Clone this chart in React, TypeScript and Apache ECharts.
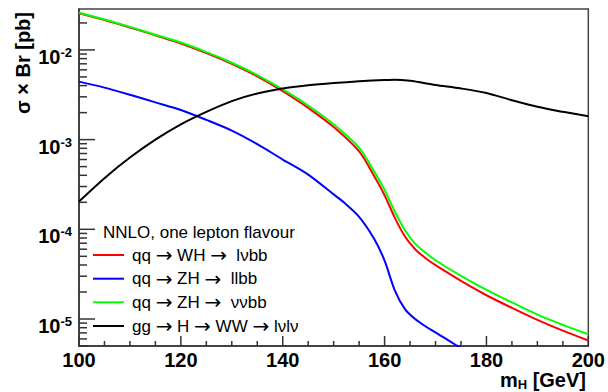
import { useEffect, useRef } from "react";
import * as echarts from "echarts";

const FONT = '"Liberation Sans", Arial, Helvetica, sans-serif';
const SYMBOL_FONT = '"DejaVu Sans", sans-serif';

// Higgs mass points (GeV) and cross section x branching ratio (pb)
const massVH = [100, 105, 110, 115, 120, 125, 130, 135, 140, 145, 150, 155, 158, 160, 162, 164, 166, 168, 170, 175, 180, 185, 190, 195, 200];
const whLnubb = [0.0257, 0.0216, 0.0178, 0.01452, 0.0118, 0.00923, 0.0070, 0.00507, 0.00347, 0.00226, 0.00138, 7.4e-4, 3.89e-4, 2.40e-4, 1.35e-4, 8.3e-5, 6.0e-5, 4.79e-5, 3.98e-5, 2.66e-5, 1.84e-5, 1.33e-5, 9.77e-6, 7.41e-6, 5.75e-6];
const zhNunubb = [0.0260, 0.02188, 0.01807, 0.01479, 0.01208, 0.00946, 0.00719, 0.00525, 0.00363, 0.0024, 0.00148, 8.1e-4, 4.37e-4, 2.75e-4, 1.58e-4, 9.77e-5, 6.92e-5, 5.5e-5, 4.52e-5, 3.02e-5, 2.11e-5, 1.53e-5, 1.12e-5, 8.61e-6, 6.76e-6];

const massZll = [100, 105, 110, 115, 120, 125, 130, 135, 140, 145, 150, 152, 155, 158, 160, 162, 164, 166, 168, 170, 172, 174, 176];
const zhLlbb = [4.43e-3, 3.80e-3, 3.16e-3, 2.60e-3, 2.14e-3, 1.66e-3, 1.26e-3, 8.9e-4, 6.0e-4, 4.07e-4, 2.45e-4, 2.0e-4, 1.38e-4, 7.76e-5, 4.47e-5, 2.09e-5, 1.29e-5, 1.0e-5, 8.3e-6, 7.08e-6, 6.03e-6, 5.13e-6, 4.37e-6];

const massWW = [100, 105, 110, 115, 120, 125, 130, 135, 140, 145, 150, 155, 160, 162, 165, 170, 175, 180, 185, 190, 195, 200];
const ggWWlnln = [2.04e-4, 3.72e-4, 6.31e-4, 1.0e-3, 1.48e-3, 2.04e-3, 2.69e-3, 3.27e-3, 3.72e-3, 4.03e-3, 4.27e-3, 4.47e-3, 4.62e-3, 4.66e-3, 4.52e-3, 4.07e-3, 3.72e-3, 3.31e-3, 2.75e-3, 2.32e-3, 2.04e-3, 1.82e-3];

const seriesNames = [
  "qq \u2192 WH \u2192  l\u03bdbb",
  "qq \u2192 ZH \u2192  llbb",
  "qq \u2192 ZH \u2192  \u03bd\u03bdbb",
  "gg \u2192 H \u2192 WW \u2192 l\u03bdl\u03bd",
];
const seriesColors = ["#ff0000", "#0000ff", "#00ff00", "#000000"];
const legendHeader = "NNLO, one lepton flavour";

const xRange = { min: 100, max: 200, step: 20, minorStep: 5 };
const yRange = { min: 5e-6, max: 0.0286 };
const yMajorTicks = [1e-5, 1e-4, 1e-3, 1e-2];

function yMinorTicks(): number[] {
  const out: number[] = [];
  for (let e = -6; e <= -2; e++) {
    for (let k = 2; k <= 9; k++) {
      const v = Number((k * Math.pow(10, e)).toPrecision(3));
      if (v >= yRange.min && v <= yRange.max) out.push(v);
    }
  }
  return out;
}

function pairs(xs: number[], ys: number[]) {
  return xs.map((x, i) => [x, ys[i]]);
}

export default function App() {
  const ref = useRef<HTMLDivElement>(null);

  useEffect(() => {
    document.body.style.margin = "0";
    const chart = echarts.init(ref.current!, null, { renderer: "svg" });
    const axisColor = "#333";
    const lineSeries = (name: string, color: string, data: number[][]) => ({
      name,
      type: "line",
      data,
      symbol: "none",
      smooth: 0.3,
      clip: true,
      lineStyle: { color, width: 2 },
      itemStyle: { color },
    });

    chart.setOption({
      animation: false,
      backgroundColor: "#ffffff",
      textStyle: { fontFamily: FONT },
      grid: {
        left: 79,
        top: 9,
        right: 19,
        bottom: 46,
        show: true,
        borderColor: "#444",
        borderWidth: 1.5,
        backgroundColor: "transparent",
      },
      xAxis: {
        type: "value",
        min: xRange.min,
        max: xRange.max,
        interval: xRange.step,
        axisLine: { show: true, lineStyle: { color: axisColor, width: 1.5 } },
        axisTick: { show: false },
        splitLine: { show: false },
        axisLabel: {
          margin: 4,
          color: "#000",
          fontSize: 20,
          fontWeight: "bold",
          fontFamily: FONT,
        },
      },
      yAxis: {
        type: "log",
        logBase: 10,
        min: yRange.min,
        max: yRange.max,
        axisLine: { show: true, lineStyle: { color: axisColor, width: 1.5 } },
        axisTick: { show: false },
        splitLine: { show: false },
        axisLabel: {
          customValues: yMajorTicks,
          margin: 7,
          color: "#000",
          fontFamily: FONT,
          formatter: (v: number) => `{b|10}{s|${Math.round(Math.log10(v))}}`,
          rich: {
            b: { fontSize: 20, fontWeight: "bold", fontFamily: FONT, color: "#000", padding: [14, 0, 0, 0] },
            s: { fontSize: 13, fontWeight: "bold", fontFamily: FONT, color: "#000", padding: [5, 0, 0, 0] },
          },
        },
      },
      series: seriesNames.map((name, i) => {
        const xs = [massVH, massZll, massVH, massWW][i];
        const ys = [whLnubb, zhLlbb, zhNunubb, ggWWlnln][i];
        return lineSeries(name, seriesColors[i], pairs(xs, ys));
      }),
    });

    // Inward-pointing tick marks placed through the grid's own scales
    const toPx = (x: number, y: number) => chart.convertToPixel({ gridIndex: 0 }, [x, y]) as number[];
    const origin = toPx(xRange.min, yRange.min);
    const x0 = origin[0];
    const y0 = origin[1];
    const tickW = 1.5;
    const ticks: any[] = [];
    for (let v = xRange.min; v <= xRange.max; v += xRange.minorStep) {
      const major = (v - xRange.min) % xRange.step === 0;
      const len = major ? 10 : 5;
      const x = toPx(v, yRange.min)[0];
      ticks.push({ type: "rect", silent: true, shape: { x: x - tickW / 2, y: y0 - len, width: tickW, height: len }, style: { fill: axisColor } });
    }
    for (const v of yMajorTicks) {
      const y = toPx(xRange.min, v)[1];
      ticks.push({ type: "rect", silent: true, shape: { x: x0, y: y - tickW / 2, width: 16, height: tickW }, style: { fill: axisColor } });
    }
    for (const v of yMinorTicks()) {
      const y = toPx(xRange.min, v)[1];
      ticks.push({ type: "rect", silent: true, shape: { x: x0, y: y - tickW / 2, width: 8, height: tickW }, style: { fill: axisColor } });
    }

    // Legend: header line followed by a line sample and label per series
    const legendItems: any[] = [];
    const legendRowY = [255, 278.7, 302.3, 326];
    seriesNames.forEach((name, i) => {
      const y = legendRowY[i];
      legendItems.push({
        type: "rect",
        silent: true,
        shape: { x: 93, y: y - 1, width: 31, height: 2 },
        style: { fill: seriesColors[i] },
      });
      legendItems.push({
        type: "text",
        silent: true,
        x: 132,
        y,
        style: {
          text: name.replace(/\u2192/g, "{a|\u2192}"),
          fontFamily: FONT,
          fontSize: 17,
          fill: "#000",
          verticalAlign: "middle",
          rich: { a: { fontFamily: SYMBOL_FONT, fontSize: 20, fill: "#000" } },
        },
      });
    });

    chart.setOption({
      graphic: [
        ...legendItems,
        ...ticks,
        {
          type: "text",
          x: 103,
          y: 232,
          style: { text: legendHeader, fontFamily: FONT, fontSize: 17, fill: "#000", verticalAlign: "middle" },
        },
        {
          type: "text",
          x: 586,
          y: 380,
          style: {
            text: "{m|m}{h|H}{m| [GeV]}",
            align: "right",
            verticalAlign: "middle",
            rich: {
              m: { fontSize: 20, fontWeight: "bold", fontFamily: FONT, fill: "#000" },
              h: { fontSize: 13, fontWeight: "bold", fontFamily: FONT, fill: "#000", padding: [8, 0, 0, 0] },
            },
          },
        },
        {
          type: "text",
          x: 23,
          y: 12,
          rotation: Math.PI / 2,
          style: {
            text: "\u03c3 \u00d7 Br [pb]",
            align: "right",
            verticalAlign: "middle",
            fontSize: 20,
            fontWeight: "bold",
            fontFamily: FONT,
            fill: "#000",
          },
        },
      ],
    });

    return () => chart.dispose();
  }, []);

  return (
    <div
      ref={ref}
      style={{ position: "fixed", left: 0, top: 0, width: 608, height: 392, background: "#fff" }}
    />
  );
}
